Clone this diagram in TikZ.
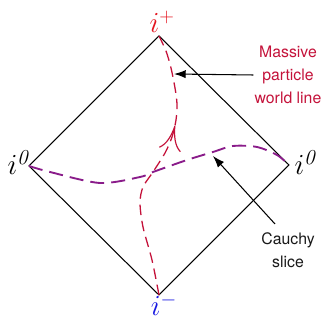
\documentclass[tikz,border=0pt]{standalone}
\usepackage{fontspec}
\setsansfont{TeX Gyre Heros}
\usetikzlibrary{arrows.meta,decorations.markings}

\definecolor{wlred}{RGB}{196,18,58}
\definecolor{slicepurple}{RGB}{138,28,138}
\definecolor{plusred}{RGB}{228,20,30}
\definecolor{minusblue}{RGB}{25,25,225}

\tikzset{
  edge/.style={line width=0.9pt},
  worldline/.style={wlred,line width=1.1pt,dash pattern=on 9pt off 5pt},
  slice/.style={slicepurple,line width=1.6pt,dash pattern=on 12pt off 6pt},
  pointer/.style={line width=0.9pt,-{Latex[length=10pt,width=7pt]}},
  infty/.style={inner sep=0pt,anchor=base,font=\fontsize{26}{26}\selectfont},
  caption/.style={font=\sffamily\fontsize{13.5}{19.8}\selectfont,align=center,inner sep=1pt}
}

\begin{document}
\begin{tikzpicture}[x=0.03cm,y=-0.03cm]
  \useasboundingbox (0,0) rectangle (322,320);
  \coordinate (top) at (159,36);
  \coordinate (right) at (289,165);
  \coordinate (bot) at (159,295);
  \coordinate (left) at (29,166);
  \draw[edge,line join=miter] (top) -- (right) -- (bot) -- (left) -- cycle;
  \node[infty,text=plusred] (iplus) at (162,33) {$i^+$};
  \node[infty,text=minusblue] (iminus) at (164,316) {$i^-$};
  \node[infty] (i0left) at (18,175) {$i^{\mathit{0}}$};
  \node[infty] (i0right) at (305,175) {$i^{\mathit{0}}$};
  \draw[slice] plot[smooth] coordinates {(left) (50,172) (100,183) (140,177) (153,172) (187,160) (213,152) (233,146) (257,147) (277,155) (right)};
  \draw[worldline,postaction={decorate},decoration={markings,
      mark=at position 0.66 with {\arrow[wlred,line width=1pt]{Computer Modern Rightarrow[length=21pt,width=19pt]}}}]
    plot[smooth] coordinates {(bot) (152,260) (143,227) (140,203) (143,187) (153,172) (165,153) (172,137) (176,120) (177,104) (175,88) (171,68) (166,51) (top)};
  \node[caption,text=wlred] (wltext) at (288,75) {Massive\\particle\\world line};
  \node[caption,text=black!90] (cstext) at (288,250) {Cauchy\\slice};
  \coordinate (wlhit) at (174,74);
  \coordinate (ctail) at (275,224);
  \coordinate (chit) at (213,156);
  \draw[pointer] (wltext.west) -- (wlhit);
  \draw[pointer] (ctail) -- (chit);
\end{tikzpicture}
\end{document}
